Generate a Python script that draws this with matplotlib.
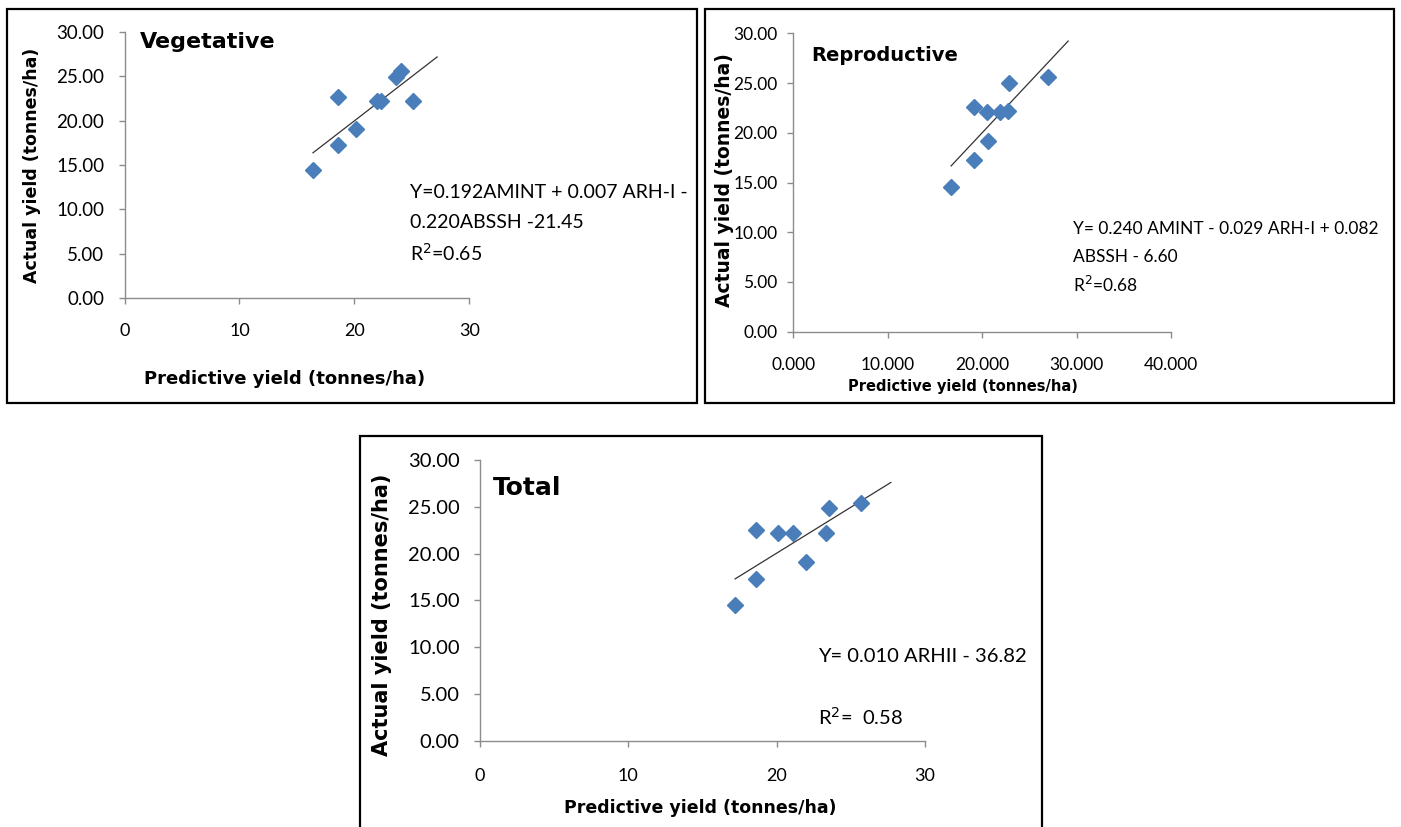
import numpy as np
import matplotlib
matplotlib.use("Agg")
import matplotlib.pyplot as plt
from matplotlib.patches import Rectangle

# ---------------- data ----------------
veg_pred = [16.4, 18.6, 18.6, 20.1, 22.0, 22.3, 23.6, 24.1, 25.1]
veg_act = [14.4, 22.6, 17.3, 19.1, 22.2, 22.2, 24.9, 25.6, 22.2]

rep_pred = [16.7, 19.1, 19.1, 20.5, 20.6, 21.9, 22.7, 22.8, 27.0]
rep_act = [14.5, 22.6, 17.3, 22.1, 19.2, 22.1, 22.2, 25.0, 25.6]

tot_pred = [17.2, 18.6, 18.6, 20.1, 21.1, 22.0, 23.3, 23.5, 25.7]
tot_act = [14.5, 22.5, 17.3, 22.2, 22.2, 19.1, 22.2, 24.9, 25.4]

y_ticks = [0, 5, 10, 15, 20, 25, 30]
x_ticks_30 = [0, 10, 20, 30]
x_ticks_40 = [0, 10, 20, 30, 40]

titles = ["Vegetative", "Reproductive", "Total"]
eq_veg = ["Y=0.192AMINT + 0.007 ARH-I -", "0.220ABSSH -21.45", "R$^2$=0.65"]
eq_rep = ["Y= 0.240 AMINT - 0.029 ARH-I + 0.082", "ABSSH - 6.60", "R$^2$=0.68"]
eq_tot = ["Y= 0.010 ARHII - 36.82", "R$^2$=  0.58"]
xlabel = "Predictive yield (tonnes/ha)"
ylabel = "Actual yield (tonnes/ha)"

# ---------------- figure ----------------
W, H = 1401, 827
fig = plt.figure(figsize=(W / 100, H / 100), dpi=100)
fig.patch.set_facecolor("white")

NUM_FONT = ["Lato", "DejaVu Sans"]
BOLD_FONT = ["DejaVu Sans"]
BLUE = "#4A7EBB"
SPINE = "#8C8C8C"


def fx(x):
    return x / W


def fy(y):
    return 1 - y / H


def ax_px(x0, x1, y0, y1):
    # x0,x1 left/right pixel; y0 bottom pixel (data 0), y1 top pixel
    return [fx(x0), fy(y0), (x1 - x0) / W, (y0 - y1) / H]


def frame(x0, y0, x1, y1):
    fig.patches.append(Rectangle((fx(x0), fy(y1)), (x1 - x0) / W, (y1 - y0) / H,
                                 transform=fig.transFigure, fill=False,
                                 edgecolor="black", linewidth=1.6, zorder=0))


def style_axes(ax, xmax, xticks, xfmt, yfs, xfs, xpad, ypad):
    ax.set_xlim(0, xmax)
    ax.set_ylim(0, 30)
    ax.set_xticks(xticks)
    ax.set_yticks(y_ticks)
    ax.set_xticklabels([xfmt.format(v) for v in xticks], fontfamily=NUM_FONT, fontsize=xfs)
    ax.set_yticklabels(["{:.2f}".format(v) for v in y_ticks], fontfamily=NUM_FONT, fontsize=yfs)
    for s in ["top", "right"]:
        ax.spines[s].set_visible(False)
    for s in ["left", "bottom"]:
        ax.spines[s].set_color(SPINE)
        ax.spines[s].set_linewidth(1.0)
    ax.tick_params(axis="both", direction="out", length=4.5, width=1.0, color=SPINE,
                   labelcolor="black")
    ax.tick_params(axis="x", pad=xpad)
    ax.tick_params(axis="y", pad=ypad)
    ax.set_facecolor("none")


def plot_panel(ax, xs, ys, forward):
    ax.plot(xs, ys, linestyle="none", marker="D", markersize=8.2, color=BLUE,
            markeredgecolor=BLUE, zorder=3, clip_on=False)
    k, b = np.polyfit(xs, ys, 1)
    xl = np.array([min(xs), max(xs) + forward])
    ax.plot(xl, k * xl + b, color="#333333", linewidth=0.9, zorder=2, clip_on=False)


# frames
frame(7, 9, 697, 403)
frame(705, 9, 1394, 403)
frame(360, 436, 1042, 830)

# ---- Panel 1: Vegetative ----
ax1 = fig.add_axes(ax_px(124.5, 469.3, 298.3, 31.7))
style_axes(ax1, 30, x_ticks_30, "{:d}", 13.5, 13, 13.5, 10)
plot_panel(ax1, veg_pred, veg_act, 2.1)
fig.text(fx(140), fy(48), titles[0], fontfamily=BOLD_FONT, fontweight="bold",
         fontsize=16, va="baseline", ha="left")
fig.text(fx(285), fy(379), xlabel, fontfamily=BOLD_FONT, fontweight="bold",
         fontsize=13, ha="center", va="center")
fig.text(fx(32), fy(165), ylabel, fontfamily=BOLD_FONT, fontweight="bold",
         fontsize=12.5, ha="center", va="center", rotation=90)
for i, line in enumerate(eq_veg):
    fig.text(fx(410), fy(193 + 30 * i), line, fontfamily=NUM_FONT, fontsize=14,
             ha="left", va="center")

# ---- Panel 2: Reproductive ----
ax2 = fig.add_axes(ax_px(793.5, 1171, 331.7, 33.3))
style_axes(ax2, 40, x_ticks_40, "{:.3f}", 12.5, 12.5, 13.5, 7)
plot_panel(ax2, rep_pred, rep_act, 2.1)
fig.text(fx(811), fy(61), titles[1], fontfamily=BOLD_FONT, fontweight="bold",
         fontsize=14, va="baseline", ha="left")
fig.text(fx(963), fy(387), xlabel, fontfamily=BOLD_FONT, fontweight="bold",
         fontsize=10.5, ha="center", va="center")
fig.text(fx(724), fy(180), ylabel, fontfamily=BOLD_FONT, fontweight="bold",
         fontsize=13.5, ha="center", va="center", rotation=90)
for i, line in enumerate(eq_rep):
    fig.text(fx(1073), fy(229 + 28 * i), line, fontfamily=NUM_FONT, fontsize=12.5,
             ha="left", va="center")

# ---- Panel 3: Total ----
ax3 = fig.add_axes(ax_px(480, 925, 740.7, 460))
style_axes(ax3, 30, x_ticks_30, "{:d}", 14.5, 13, 15, 10)
plot_panel(ax3, tot_pred, tot_act, 2.0)
fig.text(fx(493), fy(495), titles[2], fontfamily=BOLD_FONT, fontweight="bold",
         fontsize=18, va="baseline", ha="left")
fig.text(fx(700), fy(808), xlabel, fontfamily=BOLD_FONT, fontweight="bold",
         fontsize=12.5, ha="center", va="center")
fig.text(fx(382), fy(615), ylabel, fontfamily=BOLD_FONT, fontweight="bold",
         fontsize=15, ha="center", va="center", rotation=90)
fig.text(fx(818), fy(656), eq_tot[0], fontfamily=NUM_FONT, fontsize=14.5,
         ha="left", va="center")
fig.text(fx(818), fy(717), eq_tot[1], fontfamily=NUM_FONT, fontsize=14.5,
         ha="left", va="center")

fig.savefig("out.png", dpi=100, facecolor="white")
